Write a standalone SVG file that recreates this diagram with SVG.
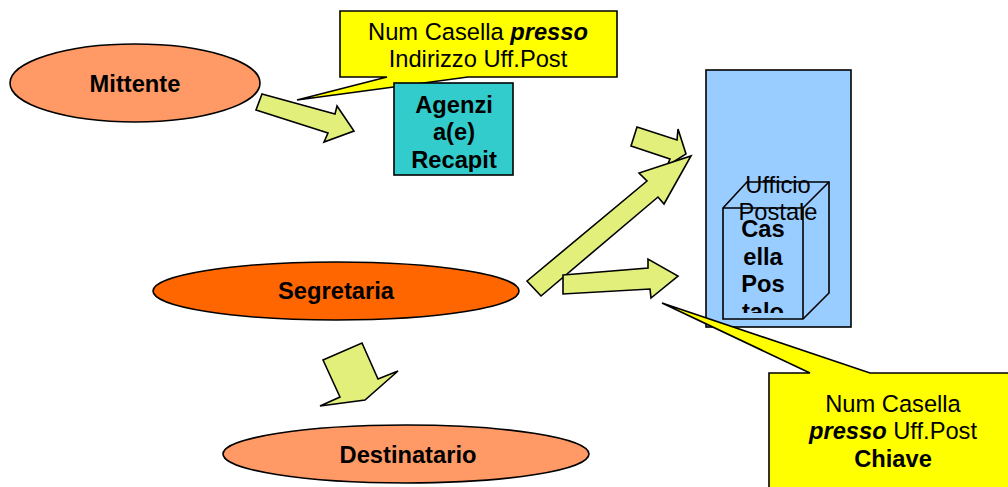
<svg xmlns="http://www.w3.org/2000/svg" width="1008" height="487" viewBox="0 0 1008 487">
<style>
.shape{stroke:#000;stroke-width:1.6;stroke-linejoin:miter}
.arrow{fill:#E3EF7B;stroke:#000;stroke-width:1.6;stroke-linejoin:miter}
.callout{fill:#FFFF00;stroke:#000;stroke-width:1.6}
.t{font-family:"Liberation Sans",Arial,sans-serif;font-size:23.7px;fill:#000;text-anchor:middle}
.b{font-weight:bold}
</style>
<defs>
<clipPath id="clipAg"><rect x="395" y="84" width="117" height="88"/></clipPath>
<clipPath id="clipCube"><rect x="724" y="209" width="78" height="104"/></clipPath>
</defs>
<rect width="1008" height="487" fill="#fff"/>

<g id="ufficio-postale">
<rect class="shape" x="706" y="70" width="145" height="257" fill="#99CCFF"/>
</g>
<g id="casella-postale">
<polygon class="shape" points="723,208 747,182 829,182 829,293 803,319 723,319" fill="#99CCFF"/>
<polyline class="shape" fill="none" points="723,208 803,208 829,182"/>
<line class="shape" x1="803" y1="208" x2="803" y2="319"/>
<g clip-path="url(#clipCube)">
<text class="t b" x="763" y="237">Cas</text>
<text class="t b" x="763" y="265">ella</text>
<text class="t b" x="763" y="292">Pos</text>
<text class="t b" x="763" y="320">talo</text>
</g>
<text class="t" x="778" y="193">Ufficio</text>
<text class="t" x="778" y="220">Postale</text>
</g>

<g id="callout-top">
<polygon class="callout" points="340,11 617,11 617,77 468,77 297,100 387,77 340,77"/>
<text class="t" x="478" y="40">Num Casella <tspan font-weight="bold" font-style="italic">presso</tspan></text>
<text class="t" x="478" y="67">Indirizzo Uff.Post</text>
</g>

<g id="agenzia">
<rect class="shape" x="394" y="83" width="119" height="92" fill="#33CCCC"/>
<g clip-path="url(#clipAg)">
<text class="t b" x="454" y="113">Agenzi</text>
<text class="t b" x="454" y="140">a(e)</text>
<text class="t b" x="454" y="168">Recapit</text>
</g>
</g>

<g id="mittente">
<ellipse class="shape" cx="135" cy="83" rx="125" ry="39" fill="#FF9966"/>
<text class="t b" x="135" y="92">Mittente</text>
</g>

<g id="segretaria">
<ellipse class="shape" cx="336" cy="291" rx="183" ry="29" fill="#FF6600"/>
<text class="t b" x="336" y="299">Segretaria</text>
</g>

<g id="destinatario">
<ellipse class="shape" cx="406" cy="454" rx="183" ry="29" fill="#FF9966"/>
<text class="t b" x="408" y="463">Destinatario</text>
</g>

<g id="connectors">
<polygon class="arrow" points="262,94 335,114 337,106 354,131 324,142 328,133 256,110"/>
<polygon class="arrow" points="637,127 677,140 678,129 686,154 667,166 670,159 631,146"/>
<polygon class="arrow" points="527,281 647,181 639,173 691,156 664,204 658,197 541,296"/>
<polygon class="arrow" points="563,275 648,268 648,259 678,276 651,298 650,289 563,294"/>
<polygon class="arrow" points="323,360 362,343 378,379 398,371 365,400 320,406 340,397"/>
</g>

<g id="callout-bottom">
<polygon class="callout" points="769,373 810,373 662,303 870,373 1012,373 1012,492 769,492"/>
<text class="t" x="893" y="412">Num Casella</text>
<text class="t" x="893" y="439"><tspan font-weight="bold" font-style="italic">presso</tspan> Uff.Post</text>
<text class="t b" x="893" y="467">Chiave</text>
</g>
</svg>
